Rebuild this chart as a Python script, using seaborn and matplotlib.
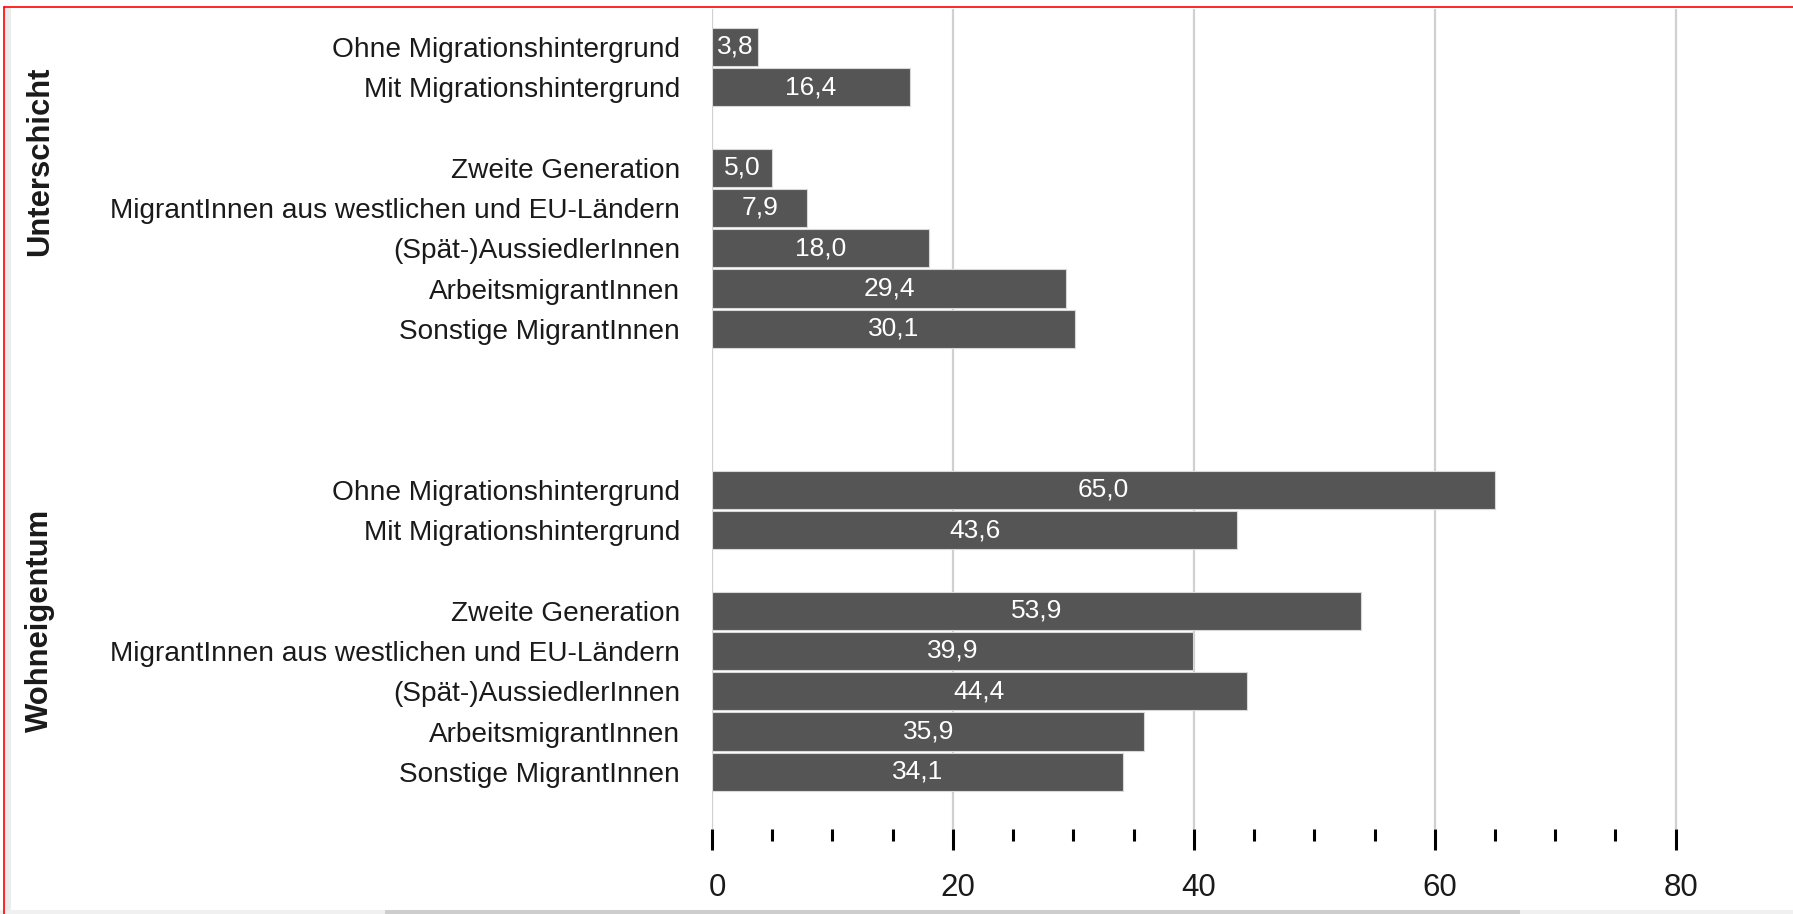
import matplotlib
matplotlib.use("Agg")
import matplotlib.pyplot as plt
from matplotlib.ticker import FixedLocator
from matplotlib.lines import Line2D
from matplotlib.patches import Rectangle
import matplotlib.transforms as mtransforms
import numpy as np
import pandas as pd
import seaborn as sns

# data (percent)
groups = ["Unterschicht", "Wohneigentum"]
categories = ["Ohne Migrationshintergrund", "Mit Migrationshintergrund",
              "Zweite Generation", "MigrantInnen aus westlichen und EU-Ländern",
              "(Spät-)AussiedlerInnen", "ArbeitsmigrantInnen", "Sonstige MigrantInnen"]
unterschicht = [3.8, 16.4, 5.0, 7.9, 18.0, 29.4, 30.1]
wohneigentum = [65.0, 43.6, 53.9, 39.9, 44.4, 35.9, 34.1]
x_ticks = [0, 20, 40, 60, 80]
x_minor = [5, 10, 15, 25, 30, 35, 45, 50, 55, 65, 70, 75]

# row slots inside each block (empty slot between the two sub blocks)
slots = [0, 1, 3, 4, 5, 6, 7]
block_offset = [0, 11]

rows = []
for g, vals, off in zip(groups, [unterschicht, wohneigentum], block_offset):
    for c, v, s in zip(categories, vals, slots):
        rows.append({"group": g, "category": c, "value": v, "pos": s + off})
df = pd.DataFrame(rows)

sns.set_style("white")
plt.rcParams["font.family"] = ["Liberation Sans", "DejaVu Sans"]

fig = plt.figure(figsize=(17.93, 9.14), dpi=100)
ax = fig.add_axes([712 / 1793, 85 / 914, 1 - 712 / 1793 - 21 / 1793, 1 - 85 / 914 - 9 / 914])

sns.barplot(data=df, x="value", y="pos", orient="y", native_scale=True,
            color="#555555", saturation=1, width=0.95, edgecolor="#d8d8d8",
            linewidth=0.8, ax=ax, zorder=2)

ax.set_xlim(0, 88)
ax.set_ylim(19.42, -0.94)

ax.set_yticks(df["pos"])
ax.set_yticklabels(df["category"], fontsize=20.2, color="#1a1a1a")
ax.tick_params(axis="y", length=0, pad=23)

ax.xaxis.set_major_locator(FixedLocator(x_ticks))
ax.xaxis.set_minor_locator(FixedLocator(x_minor))
ax.tick_params(axis="x", which="major", direction="out", length=15, width=2.2,
               color="black", pad=17, labelsize=22.5, labelcolor="#1a1a1a", bottom=True)
ax.tick_params(axis="x", which="minor", direction="out", length=8.5, width=2.2,
               color="black", bottom=True)
# numbers sit a little right of their ticks in the original
shift = mtransforms.ScaledTranslation(5 / 100, 0, fig.dpi_scale_trans)
for lab in ax.get_xticklabels():
    lab.set_transform(lab.get_transform() + shift)

ax.grid(axis="x", which="major", color="#d0d0d0", linewidth=1.6, zorder=0)
ax.grid(axis="y", visible=False)
ax.set_axisbelow(True)
for sp in ax.spines.values():
    sp.set_visible(False)
ax.set_xlabel("")
ax.set_ylabel("")

# value labels inside bars
for cont in ax.containers:
    ax.bar_label(cont, labels=[f"{v:.1f}".replace(".", ",") for v in df["value"]],
                 label_type="center", color="white", fontsize=19)

# group labels on the left
trans = mtransforms.blended_transform_factory(fig.transFigure, ax.transData)
for g, yc in zip(groups, [2.83, 14.25]):
    ax.text(40 / 1793, yc, g, transform=trans, rotation=90, ha="center", va="center",
            fontsize=22.3, fontweight="bold", color="#1a1a1a")

# screenshot frame bits
fig.add_artist(Rectangle((5 / 1793, 0), 6 / 1793, 1 - 8 / 914, transform=fig.transFigure,
                         color="#ececec", lw=0))
fig.add_artist(Rectangle((0, 0), 1, 4 / 914, transform=fig.transFigure, color="#f0f0f0", lw=0))
fig.add_artist(Rectangle((385 / 1793, 0), (1520 - 385) / 1793, 4 / 914,
                         transform=fig.transFigure, color="#cdcdcd", lw=0))
fig.add_artist(Line2D([4 / 1793, 1], [1 - 7 / 914, 1 - 7 / 914], transform=fig.transFigure,
                      color="red", lw=1.2))
fig.add_artist(Line2D([4 / 1793, 4 / 1793], [0, 1 - 7 / 914], transform=fig.transFigure,
                      color="red", lw=1.2))

fig.savefig("out.png", dpi=100)
